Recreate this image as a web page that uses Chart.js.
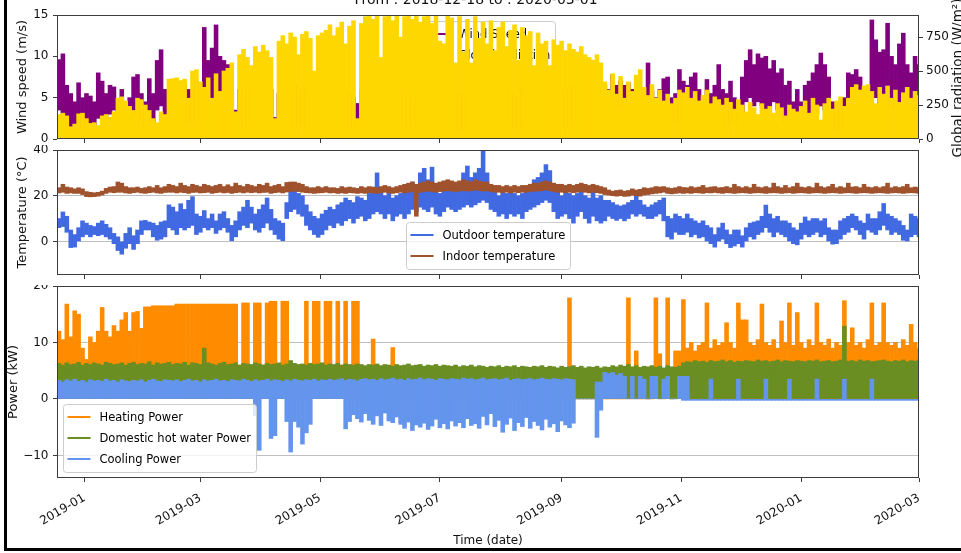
<!DOCTYPE html>
<html>
<head>
<meta charset="utf-8">
<title>Building monitoring 2018-12-18 to 2020-03-01</title>
<script src="https://cdn.jsdelivr.net/npm/chart.js@4.4.1/dist/chart.umd.min.js"></script>
<style>
  html, body { margin: 0; padding: 0; background: #fff; }
  #page { position: relative; width: 961px; height: 553px; overflow: hidden; background: #fff; }
  #page canvas { position: absolute; left: 0; }
  #frame { position: absolute; left: 4px; top: -5px; width: 990px; height: 556px;
           border: 3px solid #000; box-sizing: border-box; pointer-events: none; }
</style>
</head>
<body>
<div id="page">
  <canvas id="weather" width="961" height="165" style="top:0"></canvas>
  <canvas id="temps" width="961" height="140" style="top:145px"></canvas>
  <canvas id="power" width="961" height="268" style="top:285px"></canvas>
  <div id="frame"></div>
</div>
<script>
// Every series is sampled in 2-day bins starting 2018-12-18 (220 bins).
// Ranged series keep the low and high value seen inside each bin.

const tickDates = ['2019-01-01', '2019-03-01', '2019-05-01', '2019-07-01',
                   '2019-09-01', '2019-11-01', '2020-01-01', '2020-03-01'];
const tickLabels = ['2019-01', '2019-03', '2019-05', '2019-07',
                    '2019-09', '2019-11', '2020-01', '2020-03'];

// Global radiation, daily peak in the bin (W/m²)
const radiation = [
  180,190,170,90,110,185,190,150,115,120,
  100,170,180,160,200,300,310,280,240,210,
  300,290,250,210,150,120,200,180,440,445,
  450,430,440,300,500,510,420,380,450,300,
  480,350,500,520,560,200,620,660,600,540,
  680,640,690,650,600,150,720,760,700,780,
  750,620,770,790,740,500,760,780,800,840,
  760,820,860,700,830,870,150,850,900,930,
  880,940,600,900,940,870,930,750,900,940,
  880,930,860,900,940,850,930,720,700,930,
  890,560,900,640,880,560,900,740,860,700,
  870,650,820,860,680,800,840,580,820,760,
  790,540,780,700,720,540,730,690,720,650,
  700,660,640,680,620,600,580,620,560,420,
  360,480,330,460,300,420,350,470,510,380,
  320,400,300,360,280,330,260,300,360,340,
  380,300,350,280,320,360,260,310,290,250,
  300,270,220,290,250,200,270,230,180,260,
  220,240,190,260,230,170,250,220,200,240,
  280,190,300,250,140,260,300,220,280,310,
  240,300,380,400,360,390,400,350,260,380,
  330,390,300,360,270,340,380,300,350,320
];

// Wind speed (m/s)
const windHigh = [
  9.6,10.3,6.5,5.5,4.5,6.8,5,5.5,5.2,4.5,
  8,7,5.5,6.5,6.3,4.5,6,4.5,5,7.5,
  7.8,5.5,4.5,7.3,5.5,9.5,10.8,6,5.5,6.5,
  7,5,6.5,6,5.5,7,6.5,13.5,9.5,11,
  13.8,10,9.5,9,6,3.5,6,7,5,6.5,
  5.5,7,6,4.5,6,2.6,5.5,7,6,5,
  6.5,5,6,5.5,7,4.5,6,5,5.5,6,
  6.3,5,4.5,6,5.5,5,4.3,6,5,5.5,
  4.5,6,5,4.5,5.5,6,4,5,6,4.5,
  5,5.5,4,6,5,4.5,5.5,5,4,6,
  5,4.5,5.5,4,5,4.5,6,5,4.5,4.7,
  5,5.5,4,5,6,5.5,4.5,5,6,5,
  4.7,5.5,5,6,4.5,5.5,6,5,5.5,6,
  5,6.5,5.2,6,5.5,6.5,5,6,5.5,6.5,
  6,7.8,6.5,7,6.5,6.8,6,7.2,6,5.5,
  9.2,5.8,5,6,7.3,7.5,5,5.5,8.4,7,
  6.5,7.5,8,6,5,7.2,5.5,6.5,9,6,
  5.5,7,5,4.5,7.5,9.5,10.8,9,10.3,9.8,
  10,8.5,9.5,8,8.5,6.5,7,4.5,6,4.5,
  6.5,7,8,9,10.4,9,7.5,4.5,4,3.5,
  5,8,7.8,8.4,7.5,6,5,14.4,12,10.5,
  10.8,14,10,9,11.5,12.8,9,8,10,9
];
const windLow = [
  3.5,2.8,2.5,1.5,1.3,1.5,2,1.2,1.5,1.1,
  2.5,2.5,2.8,3,3.5,1.5,2,1.8,2,3,
  3.5,2,1.2,2,1.8,3.5,4,2,1.5,2,
  2.5,1.5,2,2,1.8,2.5,2.3,5,4,3.5,
  4.5,5,4.5,3,2,2.5,1.5,2,1.5,2,
  1.5,2,2,1.2,1.8,1.8,1.5,2,1.5,1.2,
  2,1.5,1.8,1.2,2,1.5,1.8,1.2,1.5,2,
  1.8,1.5,1.2,2,1.5,1.2,2.1,1.8,1.5,1.2,
  1.2,1.8,1.5,1,1.5,2,1,1.5,1.8,1.2,
  1.5,1.5,1,2,1.5,1.2,1.5,1.5,1,1.8,
  1.5,1.2,1.5,1,1.5,1.2,1.8,1.5,1.2,3.5,
  1.5,1.8,1,1.5,2,1.5,1.2,1.5,1.8,1.5,
  2.7,1.5,1.2,1.8,1.2,1.5,2,1.5,1.5,2,
  1.5,2,2.8,2,1.5,2,1.5,2,1.5,2.5,
  3,4,3.5,4.5,3.5,4,2.5,4.2,2.8,2.5,
  3,2,2.3,2.8,4,4.5,2.5,1.8,3,2.5,
  3,3.5,3,2.5,1.5,2.5,2,1.8,2.5,2,
  1.5,3,2,1.5,3,4.5,5,4,4.5,4,
  3.5,3,4.5,3.5,2.5,2,2.2,1.2,2.5,1.5,
  2.5,3,3.5,3,4,3.5,3,1.5,1,0.8,
  1.5,3.5,4,4.5,3.5,2.5,2,5,5,4,
  5,5.5,4,3.5,4,4.5,3,2,4,4
];

// Outdoor temperature (°C)
const outdoorHigh = [
  10,12.9,11,5,3,6,9,8,7,6.5,
  8,9,7.5,6,3.5,2,0,3.5,6,2.5,
  5,9,9.2,8.5,8,7,8.5,9,16,15,
  13,16.5,14,18,19.6,12,11,13.5,10,12,
  9,12,13,10,7,9,13,15,18,15,
  12,14,16,19,14,10,9,8,17,22,
  22.5,21,20,16,13,11,10,12,13.6,15,
  14,16,17,19,18,17,19.6,19,18,21,
  22,30,22,20,22,19,20,21,22,24,
  26,22,30,32,27,32.5,22,21,24,26,
  25,22,24,30,33,28,30,32,39.6,30,
  24,22,20,22,21,22.5,21,20,21,23,
  25,27,28,30,33.6,31,25,22,20,22,
  21,20,21,22,20,19,22,19,20,18,
  18,17,16,15.5,16,17,18,20,18,16,
  15,16,17,18,19,11,10,12,11,10,
  12,10,9,8,9,7,6,3,6,8,
  5,3,5,5,2.5,6,8,8.5,9,11,
  15.9,12,10,11,9,9,8,6,5,8,
  10.7,9,10,10,9,10,6,5,5,9,
  10,11,12,11,9,8,12,10,10,13,
  16.6,12,11,10,9,7,5,12,11,10
];
const outdoorLow = [
  6,6.5,4,-2.7,-2.5,0,2,3,2,3,
  2.5,3,2,1,-1,-4,-5.6,-3,-1,-3.5,
  -1,3,5,5,2,0.5,1,2,6,5,
  3,6,5,6,7,3,4,6,5,6,
  3.5,5,6,4,0.3,2,5,7,6,8,
  5,4,6,8,5,3,1,0.3,10,13,
  14,12,11,7,5,3,1.8,3,5,7,
  6,8,7,9,10,8,10,11,9,10,
  12,13,12,10,12,9,11,12,10,12,
  14,13,15,14,13,15,12,11,13,15,
  14,13,14,15,16,15,16,17,18,17,
  14,13,11,12,10,12,11,12,10,13,
  14,15,16,17,18,17,13,10,11,12,
  10,8,11,13,10,8,11,9,8,9,
  11,10,9.2,10,9,10,12,11,12,11,
  10,10,11,12,9,2,1,4,3,3,
  4,2,3,1.5,2,0,-1,-2.5,0,1,
  -1,-2.7,-2,-1,-2.5,0,2,1,3,4,
  6,4,2,4,3,2,0,-1,-1.5,1,
  3,2,3,4,2,3,0,-1.2,-1,1,
  3,4,6,5,3,1,5,4,3,5,
  7,5,3,4,3,0.5,0,2,3,2
];

// Indoor temperature (°C)
const indoorHigh = [
  23.5,25,23.8,23.5,23,23.5,23,21.8,21.5,21.3,
  21.5,22,23.2,23.8,24,26,25.5,24,23.5,23.5,
  23.8,23.2,23.5,24,23.5,24.5,23.5,24,25,24.5,
  24,25.5,24.5,24,25,24.5,24,25,24.5,24,
  24.5,25,24,24.8,24,25.5,24.5,24,25,24.5,
  24,25,24.5,25.5,24,24.5,25,24,25.8,26,
  26,25.5,25,24,23.5,23.5,24,23.5,24,23.5,
  23.5,23.2,24,23.5,23.8,23.5,23.2,24,23.5,24,
  23.8,23.5,24,24.5,24,23.5,24,24.5,25,25.5,
  26,25,25.5,26,26.5,26,25.5,26,26.5,27,
  26.5,26,26.5,27,26.5,26,27,26.5,26,26,
  25,24.5,24.5,24,24.5,24,24.5,24,24.5,24.5,
  25,25.5,25.5,26,26.5,26,25.5,25,25,24.5,
  25,24.5,25,25.5,25,24.5,25,24.5,24,23.5,
  22.5,22,22.3,22.5,22,22.3,23,22.5,22.8,23.5,
  23.2,23.5,24,23.8,24,23.5,23.2,23.5,24,23.6,
  23.5,24,23.5,23.8,24.5,23.5,23.8,24,23.5,23.6,
  24,23.5,25,24,23.5,24,23.5,25,23.8,23.5,
  24,23.5,25.5,24,23.5,24.5,23.5,24,25.5,23.8,
  23.5,24,23.5,25.5,24,23.5,24,25,23.5,24,
  23.5,25.5,23.8,24,23.5,25,23.8,23.5,24,23.5,
  24,25.5,23.5,24,23.6,24,25,23.5,23.8,23.5
];
const indoorLow = [
  21.2,21.5,21,21.2,21,21,20.5,19.6,19.5,19.6,
  19.8,20.3,21,21.5,21.3,21.5,21.5,21.2,21,21.3,
  21.5,21.2,21,21.3,21.5,21.2,21,21.4,21.5,21.5,
  21.2,21.5,21.3,21,21.4,21.5,21.2,21.3,21.5,21,
  21.3,21.5,21.2,21.4,21,21.3,21.5,21.2,21.5,21.3,
  21.5,21.2,21.4,21.5,21,21.3,21.5,21.2,21.6,21.8,
  22,21.8,21.5,21.3,21.2,21,21.2,21.3,21.5,21.2,
  21.3,21,21.2,21,21.3,21.2,21,21.2,21,21.3,
  21.2,21,21.3,21.5,21.2,21,21.3,21.5,21.2,21.5,
  21.8,11,21.5,21.8,22,21.8,21.5,21.8,22,22.2,
  22,21.8,22,22.3,22,22.2,22.5,22.3,22,22.2,
  21.8,21.5,21.5,21.3,21.5,21.2,21.5,21.3,21.5,21.5,
  21.8,22,22,22.2,22.5,22.2,21.8,21.5,21.5,21.3,
  21.5,21.3,21.5,21.8,21.5,21.2,21.5,21.3,21,20.5,
  20.3,20,19.8,20,19.7,19.8,20.2,20,19.8,20.3,
  20.5,20.8,21,21.2,21.5,21,20.8,21,21.2,21,
  21.2,21,21.3,21.2,21,21.3,21.2,21.4,21.2,21,
  21.3,21.2,21,21.2,21.3,21.2,21,21.2,21.3,21.2,
  21,21.2,21.3,21.2,21,21.2,21.3,21,21.2,21.3,
  21.2,21,21.2,21.3,21.2,21,21.2,21.3,21.2,21,
  21.2,21.3,21.2,21,21.2,21.3,21.2,21,21.2,21.3,
  21.2,21,21.2,21.3,21.2,21,21.2,21.3,21.2,21
];

// Heating power, peak in the bin (kW)
const heatingPower = [
  12,10.5,16.8,11,15.6,15,9,7,11,10,
  12,16.2,12,11,13,12,14,15.3,12,15.3,
  15.5,12.5,16.3,16.3,16.5,16.5,16.5,16.5,16.5,16.5,
  16.8,16.8,16.8,16.8,16.8,16.8,16.8,16.8,16.8,16.8,
  16.8,16.8,16.8,16.8,16.8,16.8,6,17,17,6,
  17,17,6,17,17.3,17.3,6,17.3,17.3,6,
  6,6,6,17.3,6,17.3,17.3,6,17.3,17.3,
  6,17.3,6,17.3,6,17.3,17.3,0,0,0,
  10.6,0,0,0,0,9.1,0,0,0,0,
  0,0,0,0,0,0,0,0,0,0,
  0,0,0,0,0,0,0,0,0,0,
  0,0,0,0,0,0,0,0,0,0,
  0,0,0,0,0,0,0,0,0,0,
  17.9,0,0,0,0,0,0,0,0,0,
  0,0,0,0,0,17.9,0,8.5,0,0,
  0,0,17.9,8,0,17.9,0,8.5,8.5,17.6,
  9,10,8.5,9.5,10,17,9,10.5,9.5,10,
  13.5,10,9,17,14,14,10,9.5,10.5,16.8,
  10,9.5,10.5,9,13.8,10,17,9.5,15.3,10,
  9,10.5,9.5,17,10,9.5,10.6,9,10,9.5,
  17.4,10,12.6,9.5,10,9,10.5,17,9.5,10,
  17,10,9.5,10,9,10.5,9.5,13.2,10,9
];

// Domestic hot water power, peak in the bin (kW)
const hotWaterPower = [
  6.3,6.0,6.4,6.1,6.2,6.5,6.0,6.3,6.1,6.4,
  6.2,6.0,6.5,6.3,6.1,6.2,6.4,6.0,6.3,6.5,
  6.1,6.3,6.2,6.6,6.0,6.4,6.2,6.3,6.5,6.1,
  6.3,6.2,6.5,6.0,6.4,6.3,6.1,9.0,6.4,6.2,
  6.0,6.3,6.5,6.1,6.2,6.4,6.0,6.3,6.2,6.1,
  6.4,6.2,6.0,6.3,6.1,6.2,6.4,6.0,6.2,6.8,
  6.3,6.1,6.2,6.0,6.3,6.1,6.2,6.4,6.0,6.2,
  6.1,6.3,6.0,6.2,6.1,6.0,6.2,6.1,5.9,6.1,
  6.0,6.2,5.9,6.1,6.0,5.8,6.1,5.9,6.0,6.2,
  5.9,6.0,6.1,5.8,6.0,5.9,6.1,5.8,6.0,5.9,
  5.8,6.0,5.7,5.9,5.8,6.0,5.7,5.9,5.8,5.6,
  5.8,5.7,5.9,5.6,5.8,5.7,5.9,5.6,5.8,5.7,
  5.6,5.8,5.7,5.9,5.6,5.8,5.7,5.5,5.8,5.6,
  5.7,5.9,5.6,5.8,5.5,5.7,5.6,5.8,5.5,5.7,
  5.6,5.9,5.7,6.0,5.8,6.1,5.7,5.9,5.6,5.8,
  5.7,5.9,5.6,5.8,5.5,5.9,5.7,5.6,5.8,6.4,
  6.6,6.5,6.8,6.6,6.7,6.5,6.8,6.6,6.7,6.9,
  6.6,6.8,6.5,6.7,6.6,6.8,6.7,6.6,6.9,6.7,
  6.8,6.6,6.7,6.9,6.6,6.8,6.7,6.6,6.8,6.7,
  6.6,6.8,6.7,6.9,6.6,6.7,6.8,6.6,6.7,6.9,
  12.9,6.7,6.8,6.6,6.9,6.7,6.8,6.6,6.7,6.8,
  6.9,6.7,6.6,6.8,6.7,6.9,6.6,6.8,6.7,6.9
];

// Cooling power (kW): high and low value in the bin
const coolingHigh = [
  3.3,3.0,3.4,3.2,3.5,3.1,3.3,3.0,3.4,3.2,
  3.3,3.1,3.5,3.2,3.3,3.0,3.4,3.2,3.1,3.3,
  3.2,3.4,3.0,3.3,3.5,3.2,3.1,3.4,3.3,3.2,
  3.4,3.1,3.3,3.5,3.2,3.3,3.0,3.4,3.2,3.3,
  3.5,3.2,3.3,3.1,3.4,3.3,3.2,3.5,3.3,3.1,
  3.4,3.2,3.3,3.5,3.2,3.4,3.3,3.1,3.4,3.2,
  3.5,3.3,3.2,3.4,3.3,3.5,3.2,3.4,3.3,3.5,
  3.3,3.4,3.6,3.3,3.5,3.4,3.2,3.5,3.6,3.4,
  3.5,3.3,3.6,3.4,3.5,3.7,3.4,3.5,3.3,3.6,
  3.4,3.5,3.7,3.4,3.6,3.5,3.3,3.6,3.5,3.4,
  3.6,3.5,3.4,3.7,3.5,3.6,3.4,3.5,3.7,3.4,
  3.5,3.6,3.4,3.5,3.7,3.3,3.5,3.6,3.4,3.5,
  3.6,3.4,3.5,3.7,3.5,3.4,3.6,3.5,3.4,3.6,
  3.5,3.4,0,0,0,0,0,3.0,3.0,4.7,
  4.5,4.7,4.2,4.5,4.0,0,4.0,0,4.0,3.5,
  0,4.0,4.0,0,3.5,4.0,0,0,4.0,4.0,
  4.0,0,0,0,0,0,3.5,0,0,0,
  0,0,0,3.5,0,0,0,0,0,0,
  3.5,0,0,0,0,0,3.5,0,0,0,
  0,0,0,3.5,0,0,0,0,0,0,
  3.5,0,0,0,0,0,0,3.5,0,0,
  0,0,0,0,0,0,0,0,0,0
];
const coolingLow = [
  0,0,0,0,0,0,0,0,0,0,
  0,0,0,0,0,0,0,0,0,0,
  0,0,0,0,0,0,0,0,0,0,
  0,0,0,0,0,0,0,0,0,0,
  0,0,0,0,0,0,0,0,0,0,
  -3,-9.1,0,0,-7,-6.5,0,0,-4,-9.4,
  -4,-5,-8,-6,-4.5,0,0,0,0,0,
  0,0,0,-5.3,-4,-2.8,-3.5,-4.1,-2.6,-3.8,
  -4.5,-3,-4.7,-2.5,-3.9,-4.2,-3.2,-4.5,-5.2,-4.1,
  -5.6,-4.6,-5,-4.3,-5.4,-4.8,-3.6,-5.1,-4.4,-5.3,
  -3.9,-4.8,-4.2,-5.1,-3.5,-4.7,-4.4,-5.2,-3.1,-4.6,
  -2.6,-4.9,-3.8,-5.9,-4.5,-3.4,-5.6,-4.2,-4.9,-3.3,
  -5.2,-4,-4.7,-5.5,-3.6,-5,-4.4,-5.8,-3.9,-4.6,
  -5.1,-4.3,0,0,0,0,0,-6.8,-2,0,
  0,0,0,0,0,0,0,0,0,0,
  0,0,0,0,0,0,0,0,0,-0.25,
  -0.25,-0.25,-0.25,-0.25,-0.25,-0.25,-0.25,-0.25,-0.25,-0.25,
  -0.25,-0.25,-0.25,-0.25,-0.25,-0.25,-0.25,-0.25,-0.25,-0.25,
  -0.25,-0.25,-0.25,-0.25,-0.25,-0.25,-0.25,-0.25,-0.25,-0.25,
  -0.25,-0.25,-0.25,-0.25,-0.25,-0.25,-0.25,-0.25,-0.25,-0.25,
  -0.25,-0.25,-0.25,-0.25,-0.25,-0.25,-0.25,-0.25,-0.25,-0.25,
  -0.25,-0.25,-0.25,-0.25,-0.25,-0.25,-0.25,-0.25,-0.25,-0.25
];

const DAY = 86400000;
const BIN_DAYS = 2;
const START = Date.UTC(2018, 11, 18);
const END = Date.UTC(2020, 2, 1);
const tickTimes = tickDates.map(d => Date.parse(d + 'T00:00:00Z'));

// centre of bin i on the time axis
function binTime(i) {
  return START + (i * BIN_DAYS + BIN_DAYS / 2) * DAY;
}

// floating bars [low, high] per bin; low defaults to 0
function toBars(high, low) {
  return high.map((h, i) => ({ x: binTime(i), y: [low ? low[i] : 0, h] }));
}

const FONT = 'DejaVu Sans';
const INK = '#111';
const SPINE = '#3c3c3c';
Chart.defaults.font.family = FONT;
Chart.defaults.font.size = 12;
Chart.defaults.color = INK;

const barStyle = { barPercentage: 1, categoryPercentage: 1, grouped: false, borderWidth: 0 };

function fmtTick(v) {
  return String(v).replace('-', '\u2212');
}

function xAxis(height, showLabels) {
  return {
    type: 'linear',
    min: START,
    max: END,
    offset: false,
    afterBuildTicks: s => { s.ticks = tickTimes.map(v => ({ value: v })); },
    afterFit: s => { s.height = height; s.paddingLeft = 0; s.paddingRight = 0; },
    grid: { drawOnChartArea: false, offset: false, drawTicks: true, tickLength: 4, color: SPINE, tickColor: SPINE },
    border: { display: false },
    ticks: {
      display: showLabels, autoSkip: false, minRotation: 30, maxRotation: 30, padding: 9,
      font: { size: 12 }, color: INK,
      callback: (v, i) => tickLabels[i]
    },
    title: {
      display: showLabels, text: 'Time (date)', font: { size: 12 }, color: INK,
      padding: { top: 0, bottom: 5 }
    }
  };
}

function yAxis(pos, min, max, ticks, width, opts) {
  return {
    type: 'linear',
    position: pos,
    min: min,
    max: max,
    afterBuildTicks: s => { s.ticks = ticks.map(v => ({ value: v })); },
    afterFit: s => { s.width = width; s.paddingTop = 0; s.paddingBottom = 0; },
    grid: {
      drawOnChartArea: !!opts.grid, color: '#b0b0b0', lineWidth: 0.8,
      drawTicks: true, tickLength: 4, tickColor: SPINE, tickWidth: 1
    },
    border: { display: false },
    ticks: { padding: opts.pad || 4, color: INK, font: { size: 12 }, callback: fmtTick },
    title: opts.title ? {
      display: true, text: opts.title, font: { size: 13 }, color: INK,
      padding: { top: opts.titlePad, bottom: 0 }
    } : { display: false }
  };
}

function drawSpines(chart) {
  const { ctx, chartArea: a } = chart;
  ctx.save();
  ctx.strokeStyle = SPINE;
  ctx.lineWidth = 1;
  ctx.strokeRect(a.left + 0.5, a.top + 0.5, a.right - a.left - 1, a.bottom - a.top - 1);
  ctx.restore();
}

// matplotlib-style legend box drawn inside the plot area
function drawLegend(chart, place) {
  const { ctx, chartArea: a } = chart;
  const items = chart.data.datasets.map(ds => ({ label: ds.label, color: ds.backgroundColor }));
  ctx.save();
  ctx.font = '11.5px "' + FONT + '"';
  const textW = Math.max(...items.map(it => ctx.measureText(it.label).width));
  const w = Math.round(36 + textW + 5);
  const h = 26 + 21 * (items.length - 1);
  let x = a.left + 6;
  let y = a.bottom - 6 - h;
  if (place === 'upper center') { x = (a.left + a.right - w) / 2; y = a.top + 6; }
  if (place === 'lower center') { x = (a.left + a.right - w) / 2; }
  x = Math.round(x) + 0.5;
  y = Math.round(y) + 0.5;

  ctx.beginPath();
  ctx.roundRect(x, y, w, h, 3);
  ctx.fillStyle = 'rgba(255,255,255,0.8)';
  ctx.fill();
  ctx.strokeStyle = '#cccccc';
  ctx.lineWidth = 1;
  ctx.stroke();

  ctx.textBaseline = 'middle';
  ctx.textAlign = 'left';
  items.forEach((it, k) => {
    const ly = Math.round(y + 12 + k * 21);
    ctx.strokeStyle = it.color;
    ctx.lineWidth = 2;
    ctx.beginPath();
    ctx.moveTo(x + 4, ly);
    ctx.lineTo(x + 27, ly);
    ctx.stroke();
    ctx.fillStyle = '#000';
    ctx.fillText(it.label, x + 36, ly + 1);
  });
  ctx.restore();
}

const baseOptions = {
  responsive: false,
  animation: false,
  events: [],
  devicePixelRatio: 1,
  plugins: { legend: { display: false }, tooltip: { enabled: false } }
};

function makeChart(id, datasets, scales, padding, plugin) {
  return new Chart(document.getElementById(id), {
    type: 'bar',
    data: { datasets: datasets },
    options: Object.assign({}, baseOptions, { scales: scales, layout: { padding: padding } }),
    plugins: [plugin]
  });
}

// wind speed and global radiation
makeChart('weather', [
  Object.assign({ label: 'Wind Speed', data: toBars(windHigh, windLow), backgroundColor: '#800080',
                  yAxisID: 'y', order: 2 }, barStyle),
  Object.assign({ label: 'Global radiation', data: toBars(radiation), backgroundColor: '#ffd700',
                  yAxisID: 'y2', order: 1 }, barStyle)
], {
  x: xAxis(26, false),
  y: yAxis('left', 0, 15, [0, 5, 10, 15], 57, { title: 'Wind speed (m/s)', titlePad: 15, pad: 4.5 }),
  y2: yAxis('right', 0, 912, [0, 250, 500, 750], 42, { pad: 3 })
}, { top: 15, left: 0, right: 0, bottom: 0 }, {
  id: 'weatherDecor',
  afterDatasetDraw(chart, args) {
    // the legend belongs to the wind axes, so radiation is painted over it
    if (args.index === 0) drawLegend(chart, 'upper center');
  },
  afterDatasetsDraw(chart) {
    drawSpines(chart);
  },
  afterDraw(chart) {
    const ctx = chart.ctx;
    ctx.save();
    ctx.fillStyle = INK;
    ctx.font = '14px "' + FONT + '"';
    ctx.textAlign = 'center';
    ctx.textBaseline = 'alphabetic';
    ctx.fillText('From : 2018-12-18 to : 2020-03-01', 476, 4);
    ctx.font = '13.5px "' + FONT + '"';
    ctx.translate(962, 78);
    ctx.rotate(-Math.PI / 2);
    ctx.fillText('Global radiation (W/m\u00b2)', 0, 0);
    ctx.restore();
  }
});

// outdoor and indoor temperature
makeChart('temps', [
  Object.assign({ label: 'Outdoor temperature', data: toBars(outdoorHigh, outdoorLow),
                  backgroundColor: '#4169e1', order: 2 }, barStyle),
  Object.assign({ label: 'Indoor temperature', data: toBars(indoorHigh, indoorLow),
                  backgroundColor: '#a0522d', order: 1 }, barStyle)
], {
  x: xAxis(10, false),
  y: yAxis('left', -14.7, 40, [0, 20, 40], 57, { title: 'Temperature (\u00b0C)', titlePad: 15, pad: 4.5, grid: true })
}, { top: 5, left: 0, right: 42, bottom: 0 }, {
  id: 'tempDecor',
  afterDatasetsDraw(chart) {
    drawSpines(chart);
    drawLegend(chart, 'lower center');
  }
});

// heating, hot water and cooling power
makeChart('power', [
  Object.assign({ label: 'Heating Power', data: toBars(heatingPower),
                  backgroundColor: '#ff8c00', order: 3 }, barStyle),
  Object.assign({ label: 'Domestic hot water Power', data: toBars(hotWaterPower),
                  backgroundColor: '#6b8e23', order: 2 }, barStyle),
  Object.assign({ label: 'Cooling Power', data: toBars(coolingHigh, coolingLow),
                  backgroundColor: '#6495ed', order: 1 }, barStyle)
], {
  x: xAxis(75, true),
  y: yAxis('left', -14, 20, [-10, 0, 10, 20], 57, { title: 'Power (kW)', titlePad: 6, pad: 4.5, grid: true })
}, { top: 1, left: 0, right: 42, bottom: 0 }, {
  id: 'powerDecor',
  afterDatasetsDraw(chart) {
    drawSpines(chart);
    drawLegend(chart, 'lower left');
  }
});
</script>
</body>
</html>
